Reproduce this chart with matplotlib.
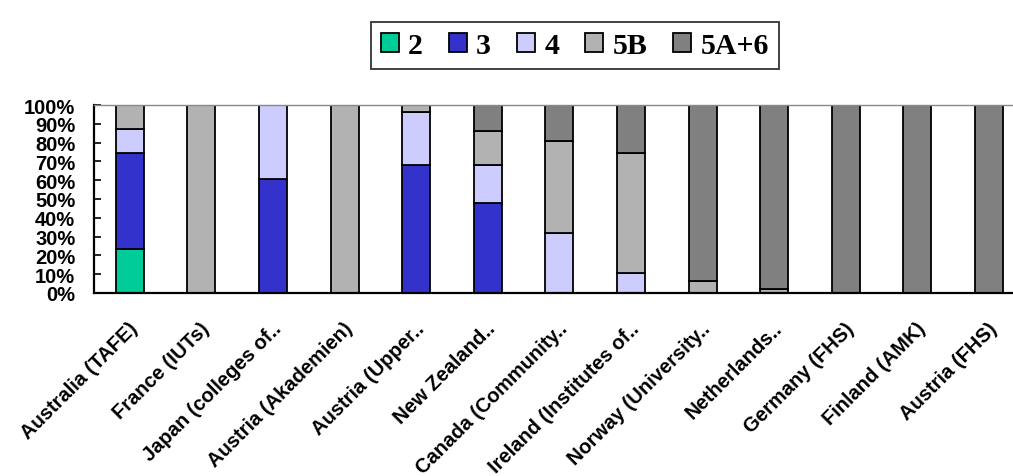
import matplotlib
matplotlib.use("Agg")
import matplotlib.pyplot as plt
import numpy as np
from matplotlib.transforms import ScaledTranslation, blended_transform_factory

categories = ["Australia (TAFE)", "France (IUTs)", "Japan (colleges of..",
              "Austria (Akademien)", "Austria (Upper..", "New Zealand..",
              "Canada (Community..", "Ireland (Institutes of..", "Norway (University..",
              "Netherlands..", "Germany (FHS)", "Finland (AMK)", "Austria (FHS)"]
series_names = ["2", "3", "4", "5B", "5A+6"]
s2   = [23.5, 0, 0, 0, 0, 0, 0, 0, 0, 0, 0, 0, 0]
s3   = [50.8, 0, 60.7, 0, 68.1, 48.0, 0, 0, 0, 0, 0, 0, 0]
s4   = [13.0, 0, 39.3, 0, 28.4, 20.1, 31.9, 10.6, 0, 0, 0, 0, 0]
s5b  = [12.7, 100, 0, 100, 3.5, 18.1, 49.0, 63.7, 6.5, 2.3, 0, 0, 0]
s5a6 = [0, 0, 0, 0, 0, 13.8, 19.1, 25.7, 93.5, 97.7, 100, 100, 100]
colors = ["#00CC99", "#3333CC", "#CCCCFF", "#B2B2B2", "#808080"]
yticks = list(range(0, 101, 10))

fig = plt.figure(figsize=(10.13, 4.77), dpi=100)
ax = fig.add_axes([94/1013, 1 - 294/477, 13*71.6/1013, 188/477])

x = np.arange(len(categories))
bottom = np.zeros(len(categories))
handles = []
for name, vals, c in zip(series_names, [s2, s3, s4, s5b, s5a6], colors):
    vals = np.array(vals, dtype=float)
    b = ax.bar(x, vals, width=0.39, bottom=bottom, color=c, edgecolor="black",
               linewidth=1.3, label=name, zorder=2)
    handles.append(b)
    bottom += vals

ax.set_xlim(-0.5, 12.5)
ax.set_ylim(0, 100)
ax.set_yticks(yticks)
ax.set_yticklabels([f"{t}%" for t in yticks], fontfamily="Liberation Sans",
                   fontweight="bold", fontsize=14.5)
ax.tick_params(axis="y", direction="in", length=5, width=1.2, pad=13.5, color="black")
ax.set_xticks(x)
ax.set_xticklabels([])
ax.tick_params(axis="x", length=0)

base = blended_transform_factory(ax.transData, ax.transAxes)
off = ScaledTranslation(5/100, -32/100, fig.dpi_scale_trans)
for xi, lab in zip(x, categories):
    ax.text(xi, 0, lab, transform=base + off, rotation=45, ha="right", va="center",
            rotation_mode="anchor", fontfamily="Liberation Sans",
            fontweight="bold", fontsize=14.5, clip_on=False)

for side in ["left", "bottom"]:
    ax.spines[side].set_linewidth(1.6)
    ax.spines[side].set_color("black")
ax.spines["top"].set_linewidth(1.0)
ax.spines["top"].set_color("#888888")
ax.spines["right"].set_visible(False)

leg = fig.legend(handles=handles, labels=series_names, loc="center",
                 bbox_to_anchor=(575/1013, 1 - 46.5/477), ncol=5,
                 prop={"family": "Liberation Serif", "weight": "bold", "size": 21.5},
                 handlelength=0.6, handleheight=0.6, handletextpad=0.3,
                 columnspacing=0.88, frameon=True, fancybox=False,
                 borderpad=0.35, borderaxespad=0)
leg.get_frame().set_edgecolor("black")
leg.get_frame().set_linewidth(1.3)

fig.savefig("out.png", dpi=100)
